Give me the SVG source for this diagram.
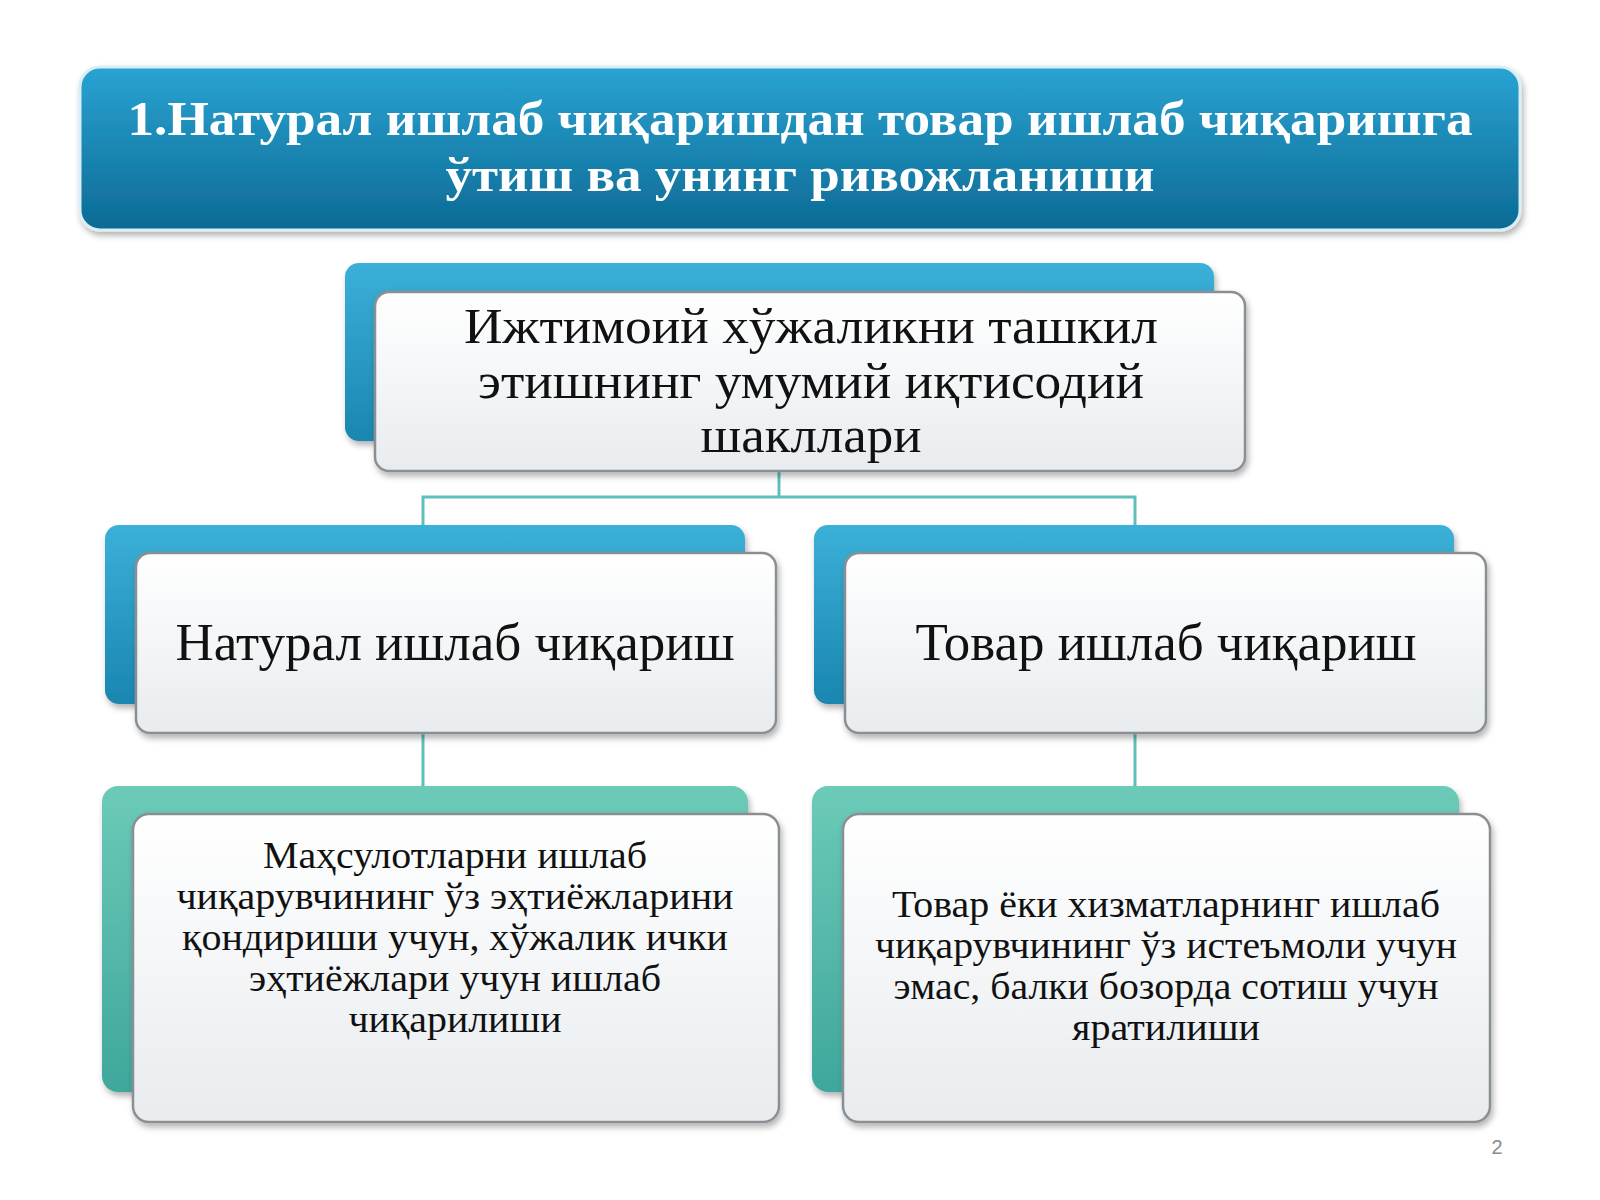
<svg xmlns="http://www.w3.org/2000/svg" width="1600" height="1200" viewBox="0 0 1600 1200">
<defs>
<linearGradient id="tg" x1="0" y1="0" x2="0" y2="1"><stop offset="0" stop-color="#2aa3d2"/><stop offset="1" stop-color="#0c6a94"/></linearGradient>
<linearGradient id="bb" x1="0" y1="0" x2="0" y2="1"><stop offset="0" stop-color="#3bb0d8"/><stop offset="1" stop-color="#1a86b0"/></linearGradient>
<linearGradient id="tb" x1="0" y1="0" x2="0" y2="1"><stop offset="0" stop-color="#6ccab8"/><stop offset="1" stop-color="#3fa79c"/></linearGradient>
<linearGradient id="fg" x1="0" y1="0" x2="0" y2="1"><stop offset="0" stop-color="#ffffff"/><stop offset="1" stop-color="#e8ecef"/></linearGradient>
<filter id="sh" x="-5%" y="-5%" width="110%" height="120%"><feDropShadow dx="2" dy="4" stdDeviation="3" flood-color="#000" flood-opacity="0.3"/></filter>
</defs>
<style>
.front{fill:url(#fg);stroke:#8a8f94;stroke-width:2.5}
.bblue{fill:url(#bb)}
.bteal{fill:url(#tb)}
.t{font-family:"Liberation Serif","DejaVu Serif",serif;fill:#111;text-anchor:middle}
.con{stroke:#5fbfba;stroke-width:3;fill:none}
</style>
<rect width="1600" height="1200" fill="#fff"/>
<g id="title">
<rect x="80" y="67" width="1440" height="163" rx="20" fill="url(#tg)" stroke="#d8eef5" stroke-width="3" filter="url(#sh)"/>
<text class="t" x="800" y="135" font-size="48" font-weight="bold" style="fill:#fff" textLength="1345" lengthAdjust="spacingAndGlyphs">1.Натурал ишлаб чиқаришдан товар ишлаб чиқаришга</text>
<text class="t" x="800" y="191" font-size="48" font-weight="bold" style="fill:#fff" textLength="709" lengthAdjust="spacingAndGlyphs">ўтиш ва унинг ривожланиши</text>
</g>
<g id="connectors">
<path class="con" d="M779,471 V497 M423,525 V497 H1135 V525 M423,733 V786 M1135,733 V786"/>
</g>
<g id="top">
<rect class="bblue" x="345" y="263" width="869" height="178" rx="14" filter="url(#sh)"/>
<rect class="front" x="375" y="292" width="870" height="179" rx="14" filter="url(#sh)"/>
<text class="t" x="811" y="343" font-size="50" textLength="694" lengthAdjust="spacingAndGlyphs">Ижтимоий хўжаликни ташкил</text>
<text class="t" x="811" y="398" font-size="50" textLength="666" lengthAdjust="spacingAndGlyphs">этишнинг умумий иқтисодий</text>
<text class="t" x="811" y="452" font-size="50" textLength="221" lengthAdjust="spacingAndGlyphs">шакллари</text>
</g>
<g id="natural">
<rect class="bblue" x="105" y="525" width="640" height="179" rx="14" filter="url(#sh)"/>
<rect class="front" x="136" y="553" width="640" height="180" rx="14" filter="url(#sh)"/>
<text class="t" x="455" y="660" font-size="52" textLength="559" lengthAdjust="spacingAndGlyphs">Натурал ишлаб чиқариш</text>
</g>
<g id="tovar">
<rect class="bblue" x="814" y="525" width="640" height="179" rx="14" filter="url(#sh)"/>
<rect class="front" x="845" y="553" width="641" height="180" rx="14" filter="url(#sh)"/>
<text class="t" x="1166" y="660" font-size="52" textLength="501" lengthAdjust="spacingAndGlyphs">Товар ишлаб чиқариш</text>
</g>
<g id="natural-desc">
<rect class="bteal" x="102" y="786" width="646" height="306" rx="16" filter="url(#sh)"/>
<rect class="front" x="133" y="814" width="646" height="308" rx="16" filter="url(#sh)"/>
<g class="t" font-size="38" lengthAdjust="spacingAndGlyphs">
<text x="455" y="868" textLength="384" lengthAdjust="spacingAndGlyphs">Маҳсулотларни ишлаб</text>
<text x="455" y="909" textLength="557" lengthAdjust="spacingAndGlyphs">чиқарувчининг ўз эҳтиёжларини</text>
<text x="455" y="950" textLength="546" lengthAdjust="spacingAndGlyphs">қондириши учун, хўжалик ички</text>
<text x="455" y="991" textLength="412" lengthAdjust="spacingAndGlyphs">эҳтиёжлари учун ишлаб</text>
<text x="455" y="1032" textLength="213" lengthAdjust="spacingAndGlyphs">чиқарилиши</text>
</g>
</g>
<g id="tovar-desc">
<rect class="bteal" x="812" y="786" width="647" height="306" rx="16" filter="url(#sh)"/>
<rect class="front" x="843" y="814" width="647" height="308" rx="16" filter="url(#sh)"/>
<g class="t" font-size="38">
<text x="1166" y="917" textLength="548" lengthAdjust="spacingAndGlyphs">Товар ёки хизматларнинг ишлаб</text>
<text x="1166" y="958" textLength="582" lengthAdjust="spacingAndGlyphs">чиқарувчининг ўз истеъмоли учун</text>
<text x="1166" y="999" textLength="545" lengthAdjust="spacingAndGlyphs">эмас, балки бозорда сотиш учун</text>
<text x="1166" y="1040" textLength="188" lengthAdjust="spacingAndGlyphs">яратилиши</text>
</g>
</g>
<text x="1497" y="1154" font-family="Liberation Sans,sans-serif" font-size="20" fill="#8a8a8a" text-anchor="middle">2</text>
</svg>
